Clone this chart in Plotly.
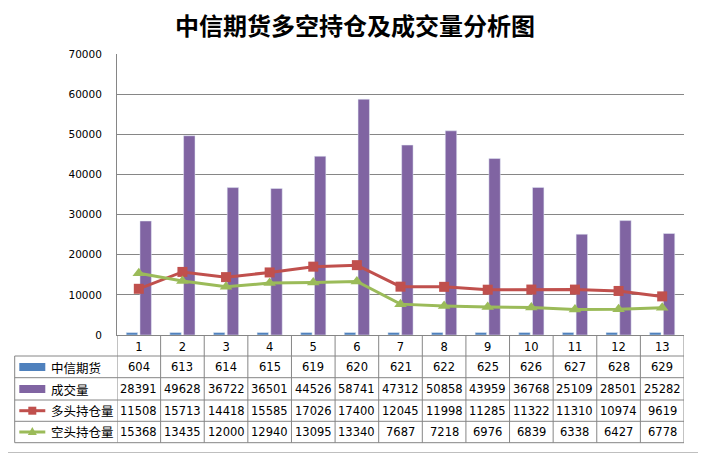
import plotly.graph_objects as go

# 数据
categories = ['1', '2', '3', '4', '5', '6', '7', '8', '9', '10', '11', '12', '13']
zxqh = [604, 613, 614, 615, 619, 620, 621, 622, 625, 626, 627, 628, 629]
volume = [28391, 49628, 36722, 36501, 44526, 58741, 47312, 50858, 43959, 36768, 25109, 28501, 25282]
long_pos = [11508, 15713, 14418, 15585, 17026, 17400, 12045, 11998, 11285, 11322, 11310, 10974, 9619]
short_pos = [15368, 13435, 12000, 12940, 13095, 13340, 7687, 7218, 6976, 6839, 6338, 6427, 6778]
y_ticks = [0, 10000, 20000, 30000, 40000, 50000, 60000, 70000]

series_names = ['中信期货', '成交量', '多头持仓量', '空头持仓量']
series_values = [zxqh, volume, long_pos, short_pos]
colors = ['#4F81BD', '#8064A2', '#C0504D', '#9BBB59']

# 页面有 8px 的 body 边距，整体往左上收 8px
OFF = 8
W, H = 706 - OFF, 454 - OFF
L, T = 117 - OFF, 54 - OFF
R = W - (684 - OFF)
B = H - (335 - OFF)
PW, PH = W - L - R, H - T - B


def px_x(p):
    return (p - OFF - L) / PW


def px_y(p):
    return (H - B - (p - OFF)) / PH


fig = go.Figure()
fig.add_trace(go.Bar(x=categories, y=zxqh, name=series_names[0], marker_color=colors[0]))
fig.add_trace(go.Bar(x=categories, y=volume, name=series_names[1], marker_color=colors[1]))
fig.add_trace(go.Scatter(x=categories, y=long_pos, name=series_names[2], mode='lines+markers',
                         line=dict(color=colors[2], width=3),
                         marker=dict(symbol='square', size=10, color=colors[2])))
fig.add_trace(go.Scatter(x=categories, y=short_pos, name=series_names[3], mode='lines+markers',
                         line=dict(color=colors[3], width=3),
                         marker=dict(symbol='triangle-up', size=11, color=colors[3])))

grid = '#868686'
shapes = []
annotations = []

# 表格线
row_lines = [356, 377.7, 400, 421.3, 442.7]
table_left = px_x(14.7)
for py in row_lines:
    shapes.append(dict(type='line', xref='paper', yref='paper', x0=table_left, x1=1,
                       y0=px_y(py), y1=px_y(py), line=dict(color=grid, width=1)))
for i in range(len(categories) + 1):
    shapes.append(dict(type='line', xref='x', yref='paper', x0=i - 0.5, x1=i - 0.5,
                       y0=0, y1=px_y(442.7), line=dict(color=grid, width=1)))
shapes.append(dict(type='line', xref='paper', yref='paper', x0=table_left, x1=table_left,
                   y0=px_y(356), y1=px_y(442.7), line=dict(color=grid, width=1)))
# 底部边框
shapes.append(dict(type='line', xref='paper', yref='paper', x0=px_x(OFF), x1=px_x(704),
                   y0=px_y(452.5), y1=px_y(452.5), line=dict(color='#BFBFBF', width=1)))

row_centers = [367, 389, 410.7, 432]
cell_font = dict(family='DejaVu Sans', size=11.5, color='black')
for r, (name, vals) in enumerate(zip(series_names, series_values)):
    cy = row_centers[r]
    # 图例标记
    if r < 2:
        shapes.append(dict(type='rect', xref='paper', yref='paper', x0=px_x(19.3), x1=px_x(45.3),
                           y0=px_y(cy - 4), y1=px_y(cy + 4), fillcolor=colors[r], line_width=0))
    else:
        shapes.append(dict(type='line', xref='paper', yref='paper', x0=px_x(19.3), x1=px_x(45.3),
                           y0=px_y(cy), y1=px_y(cy), line=dict(color=colors[r], width=3)))
        if r == 2:
            shapes.append(dict(type='rect', xref='paper', yref='paper', x0=px_x(28.3), x1=px_x(36.3),
                               y0=px_y(cy - 4), y1=px_y(cy + 4), fillcolor=colors[r], line_width=0))
        else:
            path = 'M {},{} L {},{} L {},{} Z'.format(px_x(27.8), px_y(cy + 3), px_x(36.8), px_y(cy + 3),
                                                      px_x(32.3), px_y(cy - 5))
            shapes.append(dict(type='path', xref='paper', yref='paper', path=path,
                               fillcolor=colors[r], line_width=0))
    annotations.append(dict(text=name, xref='paper', yref='paper', x=px_x(48.5), y=px_y(cy),
                            xanchor='left', yanchor='middle', showarrow=False,
                            font=dict(family='Noto Sans CJK SC', size=12.5, color='black')))
    for i, v in enumerate(vals):
        annotations.append(dict(text=str(v), xref='x', yref='paper', x=i, y=px_y(cy),
                                xanchor='center', yanchor='middle', showarrow=False, font=cell_font))

fig.update_layout(
    width=W, height=H,
    margin=dict(l=L, r=R, t=T, b=B),
    paper_bgcolor='white', plot_bgcolor='white',
    showlegend=False,
    barmode='group', bargap=0.37, bargroupgap=0.17,
    title=dict(text='<b>中信期货多空持仓及成交量分析图</b>', x=(355 - OFF) / W, xanchor='center',
               y=1 - (27 - OFF) / H, yanchor='middle',
               font=dict(family='Noto Sans CJK SC', size=24, color='black')),
    shapes=shapes,
    annotations=annotations,
)
fig.update_xaxes(type='category', range=[-0.5, len(categories) - 0.5], showline=True, linecolor=grid,
                 linewidth=1, showgrid=False, ticks='', tickfont=cell_font, ticklabelstandoff=1)
fig.update_yaxes(range=[0, 70000], tickvals=y_ticks, tickformat='d', showgrid=True, gridcolor=grid,
                 gridwidth=1, showline=True, linecolor=grid, linewidth=1, ticks='', zeroline=False,
                 tickfont=dict(family='DejaVu Sans', size=10.5, color='black'), ticklabelstandoff=12)

fig.write_html("out.html")
